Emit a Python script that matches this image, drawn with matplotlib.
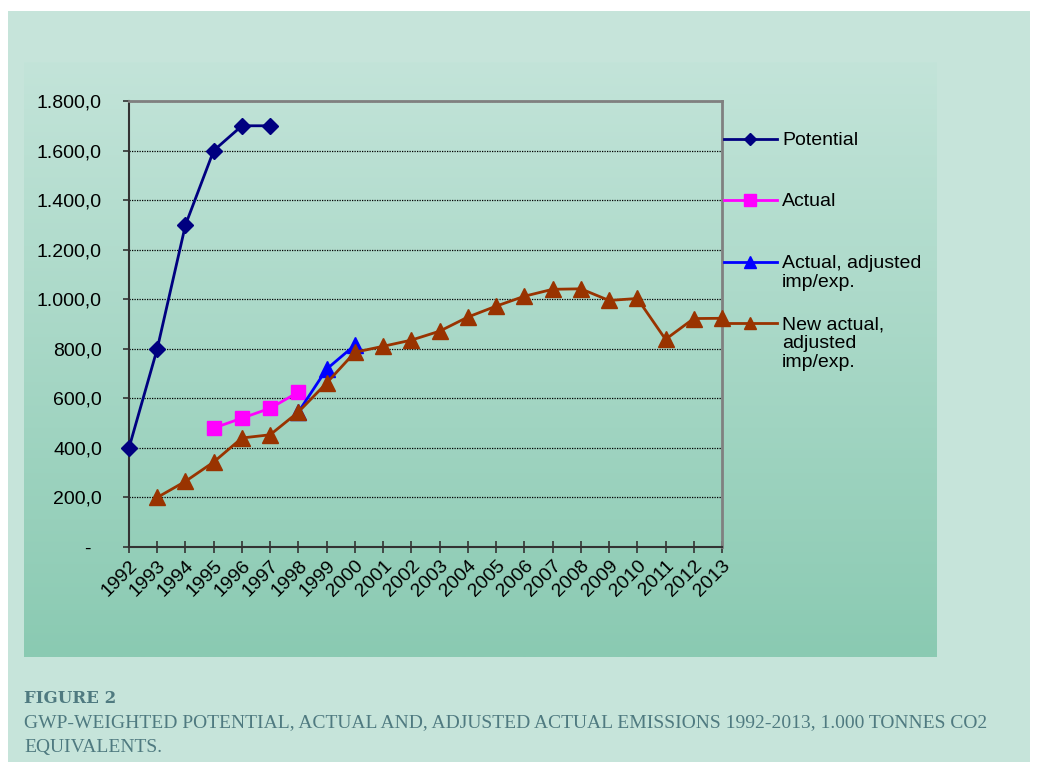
import matplotlib

matplotlib.use("Agg")
import matplotlib.pyplot as plt
import numpy as np
from matplotlib.lines import Line2D
from matplotlib.patches import Rectangle
from matplotlib.ticker import FuncFormatter

W, H = 1038, 762

years = list(range(1992, 2014))

potential_years = [1992, 1993, 1994, 1995, 1996, 1997]
potential = [400, 800, 1300, 1600, 1700, 1700]

actual_years = [1995, 1996, 1997, 1998]
actual = [480, 520, 560, 625]

adjusted_years = [1998, 1999, 2000]
adjusted = [545, 718, 815]

new_years = list(range(1993, 2014))
new_actual = [200, 265, 343, 440, 453, 545, 662, 786, 810, 835, 871, 928,
              972, 1012, 1040, 1042, 995, 1003, 838, 922, 923]

# name, x, y, colour, marker, size on plot, size in legend
series = [
    ("Potential", potential_years, potential, "#000080", "D", 8.5, 6),
    ("Actual", actual_years, actual, "#FF00FF", "s", 9.5, 8),
    ("Actual, adjusted\nimp/exp.", adjusted_years, adjusted, "#0000FF", "^", 11, 8),
    ("New actual,\nadjusted\nimp/exp.", new_years, new_actual, "#993300", "^", 12, 8.5),
]


def px(x, y):
    # pixel (top-left origin) -> figure fraction
    return x / W, 1 - y / H


def fmt_y(v, pos):
    # spreadsheet style: 1.800,0 and a dash for zero
    if v == 0:
        return "-  "
    s = f"{v:,.1f}"
    return s.replace(",", "_").replace(".", ",").replace("_", ".")


fig = plt.figure(figsize=(W / 100, H / 100), dpi=100, facecolor="white")

# outer caption panel
fig.add_artist(Rectangle(px(8, 762), (1030 - 8) / W, (762 - 11) / H,
                         transform=fig.transFigure, facecolor="#C6E4DA",
                         edgecolor="none", zorder=0))

# chart area with vertical gradient
x0, y0 = px(24, 657)
bg = fig.add_axes([x0, y0, (937 - 24) / W, (657 - 62) / H], zorder=0)
top_c = np.array([0xC3, 0xE4, 0xD9]) / 255
bot_c = np.array([0x8A, 0xCA, 0xB2]) / 255
t = np.linspace(0, 1, 256)[:, None]
grad = (top_c * (1 - t) + bot_c * t)[:, None, :]
bg.imshow(grad, aspect="auto", extent=[0, 1, 0, 1])
bg.axis("off")

l, b = px(129, 547)
ax = fig.add_axes([l, b, (722 - 129) / W, (547 - 101) / H], zorder=1)
ax.set_facecolor("none")

for name, xs, ys, color, mk, ms, lms in series:
    ax.plot(xs, ys, color=color, lw=2, marker=mk, ms=ms, clip_on=False, zorder=3)

ax.set_xlim(1992, 2013)
ax.set_ylim(0, 1800)
ax.set_yticks(np.arange(0, 1801, 200))
ax.yaxis.set_major_formatter(FuncFormatter(fmt_y))
ax.set_xticks(years)
ax.set_xticklabels([str(y) for y in years], rotation=45, ha="right",
                   rotation_mode="anchor")
ax.grid(axis="y", color="black", ls=(0, (1, 1)), lw=0.9)
ax.tick_params(axis="y", direction="out", length=4.5, width=1.2, labelsize=14,
               pad=15, color="#333333")
ax.tick_params(axis="x", direction="inout", length=9, width=1.2, labelsize=14,
               pad=3, color="#333333")
for lab in ax.get_xticklabels() + ax.get_yticklabels():
    lab.set_fontfamily("Liberation Sans")

ax.spines["left"].set_color("#333333")
ax.spines["bottom"].set_color("#333333")
ax.spines["left"].set_linewidth(1.5)
ax.spines["bottom"].set_linewidth(1.5)
ax.spines["top"].set_color("#808080")
ax.spines["right"].set_color("#808080")
ax.spines["top"].set_linewidth(2)
ax.spines["right"].set_linewidth(2)

# legend, evenly spaced like the spreadsheet original
leg_y = [139, 200, 262, 323]
for (name, xs, ys, color, mk, ms, lms), yy in zip(series, leg_y):
    xa, ya = px(724, yy)
    xb, _ = px(777, yy)
    xm, _ = px(750, yy)
    fig.add_artist(Line2D([xa, xb], [ya, ya], color=color, lw=2,
                          transform=fig.transFigure))
    fig.add_artist(Line2D([xm], [ya], color=color, marker=mk, ms=lms,
                          transform=fig.transFigure))
    xt, yt = px(782, yy - 7)
    fig.text(xt, yt, name, fontsize=14, family="Liberation Sans", va="top",
             ha="left", linespacing=1.15)

cap = "#4F7A80"
fig.text(*px(24, 703), "FIGURE 2", fontsize=12, family="DejaVu Serif",
         weight="bold", color=cap, va="baseline")
fig.text(*px(24, 727), "GWP-WEIGHTED POTENTIAL, ACTUAL AND, ADJUSTED ACTUAL "
         "EMISSIONS 1992-2013, 1.000 TONNES CO2", fontsize=14,
         family="Liberation Serif", color=cap, va="baseline")
fig.text(*px(24, 752), "EQUIVALENTS.", fontsize=14, family="Liberation Serif",
         color=cap, va="baseline")

fig.savefig("out.png", dpi=100, facecolor=fig.get_facecolor())
